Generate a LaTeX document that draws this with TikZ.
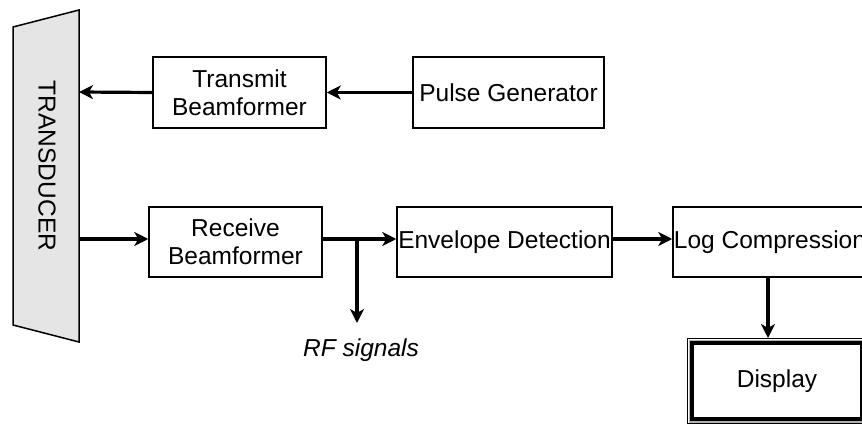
\documentclass[tikz,border=0pt]{standalone}
\usepackage{fontspec}
\setmainfont{Liberation Sans}
\usetikzlibrary{arrows.meta}
\tikzset{
  txt/.style={font=\fontsize{24.5}{28}\selectfont},
  block/.style={txt, draw=black, line width=1.5pt, align=center, inner sep=0pt},
  flow/.style={line width=3.2pt, -{Stealth[length=14pt,width=14pt,inset=4pt]}},
}
\begin{document}
\begin{tikzpicture}[x=1pt,y=-1pt]
  \useasboundingbox (0,0) rectangle (862,425);
  \clip (0,0) rectangle (862,425);

  % transducer probe
  \filldraw[fill=black!10, draw=black, line width=1.5pt]
    (13,27) -- (79,10) -- (79,342) -- (13,325) -- cycle;
  \node[txt, rotate=-90] (tlabel) at (47,166) {TRANSDUCER};
  \coordinate (txin) at (79,92);
  \coordinate (rxout) at (79,239);

  % transmit chain
  \node[block, minimum width=173pt, minimum height=71pt] (tx) at (239.5,92.5) {Transmit\\Beamformer};
  \node[block, minimum width=191pt, minimum height=71pt] (pg) at (508.5,92.5) {Pulse Generator};

  % receive chain
  \node[block, minimum width=173pt, minimum height=70pt] (rx) at (235.5,242) {Receive\\Beamformer};
  \node[block, minimum width=215pt, minimum height=70pt] (env) at (504.5,242) {Envelope Detection};
  \node[block, minimum width=194pt, minimum height=70pt] (log) at (770,242) {Log Compression};

  % display with a double frame
  \node[txt, inner sep=0pt, outer sep=0pt, minimum width=180pt, minimum height=86pt] (disp) at (777,381) {Display};
  \draw[black, line width=1.2pt]
    ([shift={(0.6,0.6)}]disp.north west) rectangle ([shift={(-0.6,-0.6)}]disp.south east);
  \draw[black!30, line width=1.8pt]
    ([shift={(2.4,2.4)}]disp.north west) rectangle ([shift={(-2.4,-2.4)}]disp.south east);
  \draw[black, line width=3.4pt]
    ([shift={(5,5)}]disp.north west) rectangle ([shift={(-5,-5)}]disp.south east);

  % RF tap
  \coordinate (tap) at (357,239);
  \coordinate (rfend) at (357,323);
  \node[txt, font=\itshape\fontsize{24.5}{28}\selectfont] (rf) at (361,350) {RF signals};

  % connectors
  \draw[flow] (tx.west) -- (txin);
  \draw[flow] (pg.west) -- (tx.east);
  \draw[flow] (rxout) -- ([yshift=3pt]rx.west);
  \draw[flow] ([yshift=3pt]rx.east) -- ([yshift=3pt]env.west);
  \draw[flow] (tap) -- (rfend);
  \draw[flow] ([yshift=3pt]env.east) -- ([yshift=3pt]log.west);
  \draw[flow] ([xshift=-2pt]log.south) -- ([xshift=-2pt]log.south |- disp.north);
\end{tikzpicture}
\end{document}
